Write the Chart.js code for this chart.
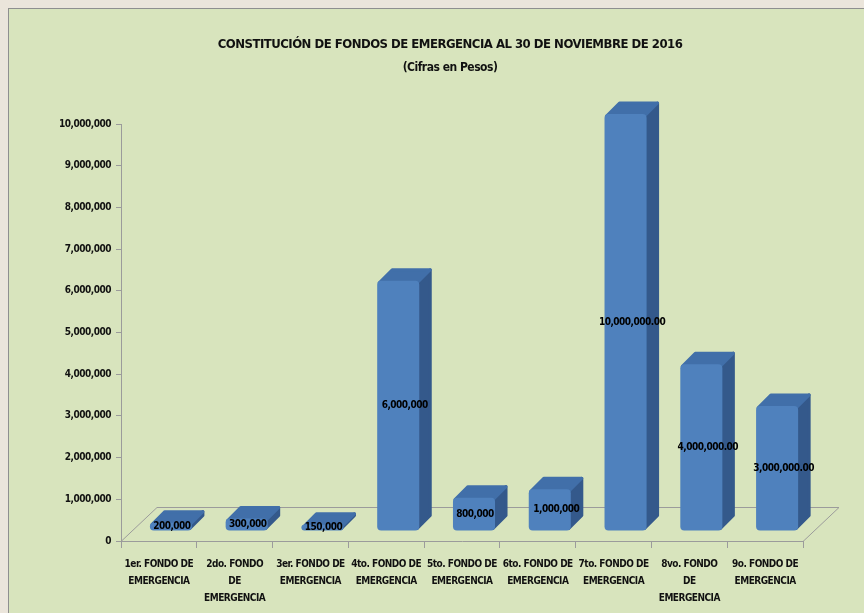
<!DOCTYPE html>
<html>
<head>
<meta charset="utf-8">
<script src="https://cdn.jsdelivr.net/npm/chart.js@4"></script>
<style>
  html, body { margin: 0; padding: 0; background: #ebe5db; overflow: hidden; }
  #frame {
    position: absolute; left: 8px; top: 8px; width: 900px; height: 700px;
    background: #d8e4bd; border-left: 1px solid #8f8f8f; border-top: 1px solid #8f8f8f;
  }
  #wrap { position: absolute; left: 0; top: 0; width: 864px; height: 613px; }
</style>
</head>
<body>
<div id="frame"></div>
<div id="wrap"><canvas id="chart" width="864" height="613"></canvas></div>
<script>
const FONT = "'Liberation Sans Narrow', 'DejaVu Sans Condensed', 'Liberation Sans', sans-serif"

const categories = [
  ['1er. FONDO DE', 'EMERGENCIA'],
  ['2do. FONDO', 'DE', 'EMERGENCIA'],
  ['3er. FONDO DE', 'EMERGENCIA'],
  ['4to. FONDO DE', 'EMERGENCIA'],
  ['5to. FONDO DE', 'EMERGENCIA'],
  ['6to. FONDO DE', 'EMERGENCIA'],
  ['7to. FONDO DE', 'EMERGENCIA'],
  ['8vo. FONDO', 'DE', 'EMERGENCIA'],
  ['9o. FONDO DE', 'EMERGENCIA']
]
const amounts = [200000, 300000, 150000, 6000000, 800000, 1000000, 10000000, 4000000, 3000000]
// the spreadsheet showed the last three with decimals
const labelDecimals = [0, 0, 0, 0, 0, 0, 2, 2, 2]
const yTicks = [0, 1000000, 2000000, 3000000, 4000000, 5000000, 6000000, 7000000, 8000000, 9000000, 10000000]

// 3D look: the front face sits a bit back on the floor, then depth goes up-right
const FACE_DX = 12
const FACE_DY = -10
const DEPTH_X = 13
const DEPTH_Y = -13
const FLOOR_X = 36
const FLOOR_Y = -34

function fmt (v, decimals) {
  return v.toLocaleString('en-US', { minimumFractionDigits: decimals, maximumFractionDigits: decimals })
}

const bars3d = {
  id: 'bars3d',
  beforeDraw (chart) {
    // fonts here are wider than the original Calibri, tighten them a bit
    chart.ctx.letterSpacing = '-0.5px'
  },
  beforeDatasetsDraw (chart) {
    const { ctx, chartArea } = chart
    const { left, right, bottom } = chartArea

    // floor
    ctx.save()
    ctx.strokeStyle = '#9b9b9b'
    ctx.lineWidth = 1
    ctx.beginPath()
    ctx.moveTo(left, bottom + 0.5)
    ctx.lineTo(left + FLOOR_X, bottom + FLOOR_Y + 0.5)
    ctx.lineTo(right + FLOOR_X, bottom + FLOOR_Y + 0.5)
    ctx.lineTo(right, bottom + 0.5)
    ctx.stroke()
    ctx.restore()

    // side and top faces, then the library draws the front face on the same offset
    ctx.save()
    ctx.translate(FACE_DX, FACE_DY)
    const meta = chart.getDatasetMeta(0)
    meta.data.forEach(bar => {
      const { x, y, base, width } = bar.getProps(['x', 'y', 'base', 'width'], true)
      const l = x - width / 2
      const r = x + width / 2
      ctx.lineJoin = 'round'
      ctx.lineWidth = 3

      ctx.fillStyle = '#34598b'
      ctx.strokeStyle = '#34598b'
      ctx.beginPath()
      ctx.moveTo(r - 2, y + 2)
      ctx.lineTo(r - 2 + DEPTH_X, y + 2 + DEPTH_Y)
      ctx.lineTo(r - 2 + DEPTH_X, base - 2 + DEPTH_Y)
      ctx.lineTo(r - 2, base - 2)
      ctx.closePath()
      ctx.fill()
      ctx.stroke()

      ctx.fillStyle = '#416fa9'
      ctx.strokeStyle = '#416fa9'
      ctx.beginPath()
      ctx.moveTo(l + 2, y + 2)
      ctx.lineTo(l + 2 + DEPTH_X, y + 2 + DEPTH_Y)
      ctx.lineTo(r - 2 + DEPTH_X, y + 2 + DEPTH_Y)
      ctx.lineTo(r - 2, y + 2)
      ctx.closePath()
      ctx.fill()
      ctx.stroke()
    })
  },
  afterDatasetsDraw (chart) {
    const { ctx } = chart
    ctx.restore()

    ctx.save()
    ctx.fillStyle = '#000000'
    ctx.font = 'bold 10px ' + FONT
    ctx.textAlign = 'center'
    ctx.textBaseline = 'middle'
    const meta = chart.getDatasetMeta(0)
    meta.data.forEach((bar, i) => {
      const { x, y, base } = bar.getProps(['x', 'y', 'base'], true)
      const h = base - y
      const cy = Math.min((y + base) / 2 + FACE_DY, base + FACE_DY - 2)
      const cx = x + FACE_DX + (h >= 40 ? 6.5 : 1)
      ctx.fillText(fmt(amounts[i], labelDecimals[i]), cx, cy)
    })
    ctx.restore()
  }
}

function faceGradient (context) {
  const bar = context.element
  if (!bar || !Number.isFinite(bar.x) || !Number.isFinite(bar.width)) return '#4f81bd'
  const w = bar.width
  const g = context.chart.ctx.createLinearGradient(bar.x - w / 2, 0, bar.x + w / 2, 0)
  g.addColorStop(0, '#4677b2')
  g.addColorStop(0.15, '#5387c6')
  g.addColorStop(0.7, '#4f81bd')
  g.addColorStop(1, '#4674ad')
  return g
}

const chart = new Chart(document.getElementById('chart'), {
  type: 'bar',
  data: {
    labels: categories,
    datasets: [{
      data: amounts,
      backgroundColor: faceGradient,
      borderRadius: 4,
      borderSkipped: false,
      categoryPercentage: 1,
      barPercentage: 0.555,
      clip: false
    }]
  },
  options: {
    responsive: false,
    animation: false,
    devicePixelRatio: 1,
    // left padding keeps the titles centred where the original had them
    layout: { padding: { left: 36, right: 0, top: 0, bottom: 0 } },
    plugins: {
      legend: { display: false },
      tooltip: { enabled: false },
      title: {
        display: true,
        text: 'CONSTITUCIÓN DE FONDOS DE EMERGENCIA AL 30 DE NOVIEMBRE DE 2016',
        color: '#111111',
        font: { family: FONT, size: 13, weight: 'bold' },
        padding: { top: 37, bottom: 8 }
      },
      subtitle: {
        display: true,
        text: '(Cifras en Pesos)',
        color: '#111111',
        font: { family: FONT, size: 12, weight: 'bold' },
        padding: { top: 0, bottom: 49 }
      }
    },
    scales: {
      x: {
        grid: { drawOnChartArea: false, color: '#9b9b9b', tickLength: 7, offset: true },
        border: { display: true, color: '#9b9b9b' },
        ticks: {
          color: '#111111',
          font: { family: FONT, size: 10, weight: 'bold', lineHeight: 1.7 },
          maxRotation: 0,
          autoSkip: false,
          padding: 8
        },
        afterFit (scale) { scale.height = 72 }
      },
      y: {
        min: 0,
        max: 10000000,
        afterBuildTicks (scale) { scale.ticks = yTicks.map(v => ({ value: v })) },
        grid: { drawOnChartArea: false, color: '#9b9b9b', tickLength: 5 },
        border: { display: true, color: '#9b9b9b' },
        ticks: {
          color: '#111111',
          font: { family: FONT, size: 10, weight: 'bold' },
          padding: 5,
          callback: v => fmt(v, 0)
        },
        afterFit (scale) { scale.width = 85 }
      },
      // empty right axis, only reserves room for the floor's depth
      yRight: {
        position: 'right',
        min: 0,
        max: 10000000,
        grid: { display: false },
        border: { display: false },
        ticks: { display: false },
        afterFit (scale) { scale.width = 61 }
      }
    }
  },
  plugins: [bars3d]
})
</script>
</body>
</html>
